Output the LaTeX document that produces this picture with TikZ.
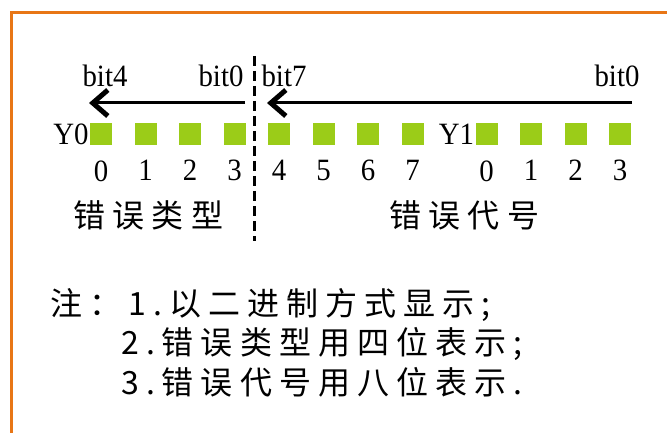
\documentclass[tikz,border=0pt]{standalone}
\usepackage{fontspec}
\setmainfont{Liberation Serif}[FakeStretch=0.93]
\newfontfamily\cjklabel[LetterSpace=22]{Noto Sans CJK SC}
\newfontfamily\cjknote[LetterSpace=22]{Noto Sans CJK SC}
\usepackage{tikz}
\usetikzlibrary{arrows.meta, positioning}
\definecolor{frameorange}{RGB}{232, 118, 22}
\definecolor{bitgreen}{RGB}{155, 204, 24}

\begin{document}
\begin{tikzpicture}[
  x=1pt, y=-1pt,
  bitbox/.style={fill=bitgreen, minimum size=22pt, inner sep=0pt},
  num/.style={font=\fontsize{31}{31}\selectfont, inner sep=0pt},
  bitlbl/.style={font=\fontsize{31}{31}\selectfont, inner sep=0pt, anchor=base},
  arrow/.style={line width=3pt, -{Straight Barb[length=15pt, width=26pt, line width=5pt]}},
  divider/.style={line width=3.2pt, dash pattern=on 10pt off 5pt},
  cjkbox/.style={font=\cjklabel\fontsize{32}{32}\selectfont, inner sep=0pt},
  notebox/.style={font=\cjknote\fontsize{32}{39.5}\selectfont, inner sep=0pt, align=left}
]
\useasboundingbox (0,0) rectangle (667,433);

% Frame
\draw[frameorange, line width=3pt] (667,12.5) -- (11.5,12.5) -- (11.5,433);

% Bit squares
\foreach \i in {0,...,7}
  \node[bitbox] (a\i) at (101+44.5*\i,134) {};
\foreach \i in {0,...,3}
  \node[bitbox] (b\i) at (486.5+44.5*\i,134) {};

% Register names
\node[num, left=1pt of a0] (y0) {Y0};
\node[num, left=1pt of b0] (y1) {Y1};

% Bit numbers
\foreach \i in {0,...,7}
  \node[num, below=15pt of a\i] (na\i) {\i};
\foreach \i in {0,...,3}
  \node[num, below=15pt of b\i] (nb\i) {\i};

% Bit labels
\node[bitlbl] (bit4) at (105,87) {bit4};
\node[bitlbl] (bit0l) at (221,87) {bit0};
\node[bitlbl] (bit7) at (284,87) {bit7};
\node[bitlbl] (bit0r) at (617,87) {bit0};

% Arrows
\coordinate (lfrom) at (245,103);
\coordinate (lto) at (89,103);
\coordinate (rfrom) at (632,103);
\coordinate (rto) at (267,103);
\draw[arrow] (lfrom) -- (lto);
\draw[arrow] (rfrom) -- (rto);

% Divider
\coordinate (divtop) at (254.5,56);
\coordinate (divbot) at (254.5,241);
\draw[divider] (divtop) -- (divbot);

% Group names
\node[cjkbox] (errtype) at (148.5,215) {错误类型};
\node[cjkbox] (errcode) at (464.5,215) {错误代号};

% Notes
\node[notebox, anchor=north west] (notes) at (50,288)
  {注：1.以二进制方式显示;\\\phantom{注：}2.错误类型用四位表示;\\\phantom{注：}3.错误代号用八位表示.};

\end{tikzpicture}
\end{document}
